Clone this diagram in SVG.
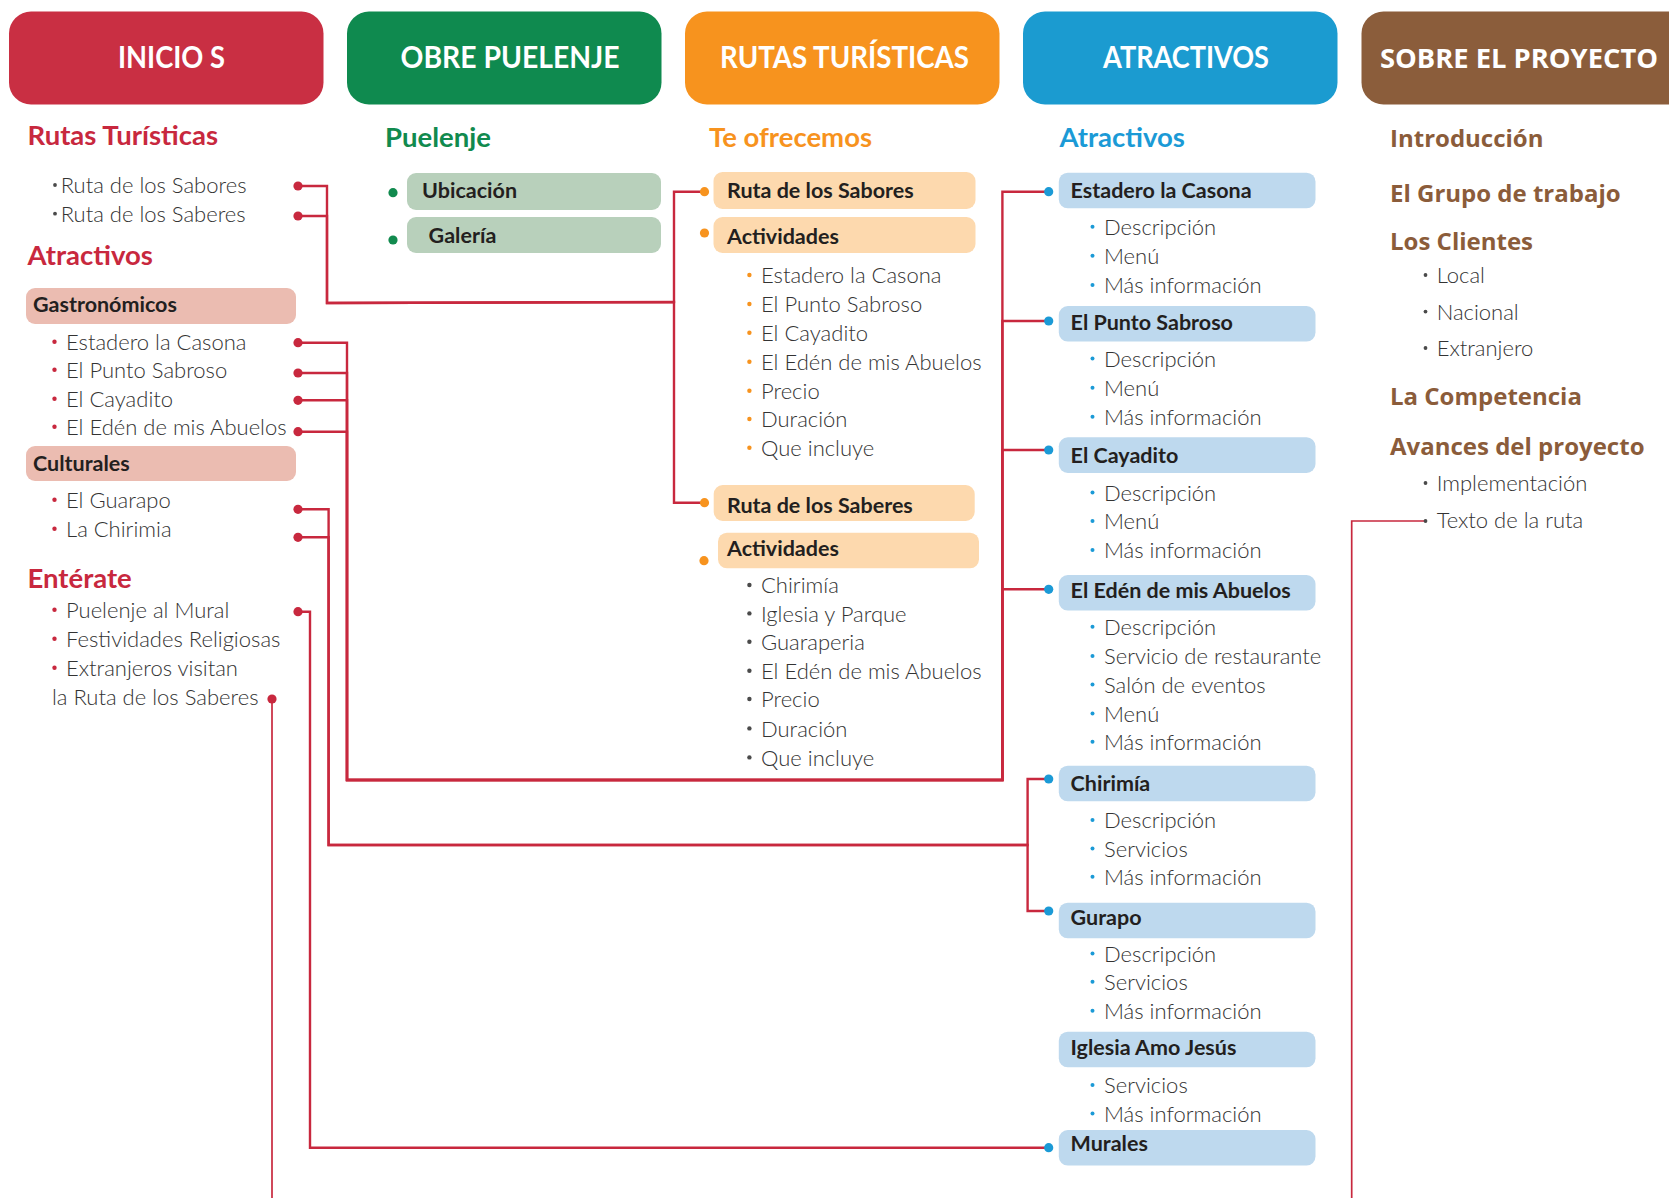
<svg xmlns="http://www.w3.org/2000/svg" width="1669" height="1198" viewBox="0 0 1669 1198">
  <style>
    .hdr { font-family: Lato, "Open Sans", sans-serif; font-weight: 700; font-size: 30px; fill: #ffffff; }
    .hdr2 { font-family: "Open Sans", "Noto Sans", sans-serif; font-weight: 700; font-size: 27.5px; fill: #ffffff; }
    .h { font-family: Lato, "Open Sans", sans-serif; font-weight: 700; font-size: 27.5px; }
    .h5 { font-family: "Open Sans", "Noto Sans", sans-serif; font-weight: 700; font-size: 24px; fill: #8b5c3a; }
    .lbl { font-family: Lato, "Open Sans", sans-serif; font-weight: 700; font-size: 21.5px; fill: #231f20; }
    .it { font-family: Lato, "Open Sans", sans-serif; font-weight: 300; font-size: 22px; fill: #333333; }
    .red { fill: #c8283e; }
    .grn { fill: #118a4e; }
    .org { fill: #f7931e; }
    .blu { fill: #1b9ad6; }
    .gry { fill: #4a4a4a; }
    .bx-pink { fill: #ebbcb1; }
    .bx-green { fill: #b8d0bb; }
    .bx-orange { fill: #fdd9ae; }
    .bx-blue { fill: #bed9ee; }
    .wire { fill: none; stroke: #c8283e; stroke-width: 2.4; stroke-linejoin: miter; }
    .wire-thin { fill: none; stroke: #c8283e; stroke-width: 1.7; }
  </style>

  <rect width="1669" height="1198" fill="#ffffff"/>

  <!-- connectors -->
  <g id="connectors">
    <path class="wire" d="M298,186 H327 V303 L674,302 V191.7 H704.5"/>
    <path class="wire" d="M298,216 H327 V303 L674,302 V502.7 H704.5"/>
    <path class="wire" d="M298,342.7 H347 V780 H1002.4 V191.7 H1048.7"/>
    <path class="wire" d="M298,373 H347 V780 H1002.4 V321 H1048.7"/>
    <path class="wire" d="M298,400.3 H347 V780 H1002.4 V450 H1048.7"/>
    <path class="wire" d="M298,431.7 H347 V780 H1002.4 V589.3 H1048.7"/>
    <path class="wire" d="M298,509.3 H328.6 V845 H1027.6 V911 H1048.7"/>
    <path class="wire" d="M298,537.3 H328.6 V845 H1027.6 V779 H1048.7"/>
    <path class="wire" d="M298,611.7 H310 V1147.7 H1048.7"/>
    <path class="wire-thin" d="M272,699 V1198"/>
    <path class="wire-thin" d="M1425,521 H1351.7 V1198"/>
  </g>

  <!-- column headers -->
  <g id="hdr-inicio">
    <rect x="9" y="11.5" width="314.5" height="93" rx="22" fill="#c92f43"/>
    <text class="hdr" x="118" y="68" textLength="107" lengthAdjust="spacingAndGlyphs">INICIO S</text>
  </g>
  <g id="hdr-puelenje">
    <rect x="347" y="11.5" width="314.5" height="93" rx="22" fill="#0f8a4f"/>
    <text class="hdr" x="400.5" y="68" textLength="219" lengthAdjust="spacingAndGlyphs">OBRE PUELENJE</text>
  </g>
  <g id="hdr-rutas">
    <rect x="685" y="11.5" width="314.5" height="93" rx="22" fill="#f7931e"/>
    <text class="hdr" x="720" y="68" textLength="249" lengthAdjust="spacingAndGlyphs">RUTAS TURÍSTICAS</text>
  </g>
  <g id="hdr-atractivos">
    <rect x="1023" y="11.5" width="314.5" height="93" rx="22" fill="#1b9bd0"/>
    <text class="hdr" x="1103" y="68" textLength="166" lengthAdjust="spacingAndGlyphs">ATRACTIVOS</text>
  </g>
  <g id="hdr-proyecto">
    <rect x="1361.5" y="11.5" width="340" height="93" rx="22" fill="#8b5d3b"/>
    <text class="hdr2" x="1380" y="68" textLength="278" lengthAdjust="spacingAndGlyphs">SOBRE EL PROYECTO</text>
  </g>

  <!-- column 1: inicio -->
  <g id="c1-rutas">
    <text class="h red" x="27.5" y="145">Rutas Turísticas</text>
    <circle class="gry" cx="55" cy="185" r="1.9"/>
    <circle class="gry" cx="55" cy="213.7" r="1.9"/>
    <text class="it" x="60.7" y="193">Ruta de los Sabores</text>
    <text class="it" x="60.7" y="221.7">Ruta de los Saberes</text>
    <circle class="red" cx="298" cy="186" r="4.6"/>
    <circle class="red" cx="298" cy="216" r="4.6"/>
  </g>
  <g id="c1-atractivos">
    <text class="h red" x="27.5" y="265">Atractivos</text>
  </g>
  <g id="c1-gastronomicos">
    <rect class="bx-pink" x="26" y="288" width="270" height="36" rx="9"/>
    <text class="lbl" x="33" y="312">Gastronómicos</text>
    <circle class="red" cx="54.5" cy="341.7" r="2.2"/>
    <circle class="red" cx="54.5" cy="369.7" r="2.2"/>
    <circle class="red" cx="54.5" cy="398.7" r="2.2"/>
    <circle class="red" cx="54.5" cy="426.7" r="2.2"/>
    <text class="it" x="66" y="350">Estadero la Casona</text>
    <text class="it" x="66" y="378">El Punto Sabroso</text>
    <text class="it" x="66" y="407">El Cayadito</text>
    <text class="it" x="66" y="435">El Edén de mis Abuelos</text>
    <circle class="red" cx="298" cy="342.7" r="4.6"/>
    <circle class="red" cx="298" cy="373" r="4.6"/>
    <circle class="red" cx="298" cy="400.3" r="4.6"/>
    <circle class="red" cx="298" cy="431.7" r="4.6"/>
  </g>
  <g id="c1-culturales">
    <rect class="bx-pink" x="26" y="446" width="270" height="35" rx="9"/>
    <text class="lbl" x="33" y="471">Culturales</text>
    <circle class="red" cx="54.5" cy="499.7" r="2.2"/>
    <circle class="red" cx="54.5" cy="528.7" r="2.2"/>
    <text class="it" x="66" y="508">El Guarapo</text>
    <text class="it" x="66" y="537">La Chirimia</text>
    <circle class="red" cx="298" cy="509.3" r="4.6"/>
    <circle class="red" cx="298" cy="537.3" r="4.6"/>
  </g>
  <g id="c1-enterate">
    <text class="h red" x="27.5" y="588">Entérate</text>
    <circle class="red" cx="54.5" cy="609.7" r="2.2"/>
    <circle class="red" cx="54.5" cy="638.7" r="2.2"/>
    <circle class="red" cx="54.5" cy="667.7" r="2.2"/>
    <text class="it" x="66" y="618">Puelenje al Mural</text>
    <text class="it" x="66" y="647">Festividades Religiosas</text>
    <text class="it" x="66" y="676">Extranjeros visitan</text>
    <text class="it" x="52" y="705">la Ruta de los Saberes</text>
    <circle class="red" cx="298" cy="611.7" r="4.6"/>
    <circle class="red" cx="272" cy="699" r="4.6"/>
  </g>

  <!-- column 2: puelenje -->
  <g id="c2-puelenje">
    <text class="h grn" x="385" y="147">Puelenje</text>
  </g>
  <g id="c2-ubicacion">
    <circle class="grn" cx="393" cy="192.7" r="4.6"/>
    <rect class="bx-green" x="407" y="173" width="254" height="37" rx="9"/>
    <text class="lbl" x="422" y="198">Ubicación</text>
  </g>
  <g id="c2-galeria">
    <circle class="grn" cx="393" cy="240" r="4.6"/>
    <rect class="bx-green" x="407" y="217" width="254" height="36" rx="9"/>
    <text class="lbl" x="428.6" y="243">Galería</text>
  </g>

  <!-- column 3: rutas turisticas -->
  <g id="c3-ofrecemos">
    <text class="h org" x="709" y="147">Te ofrecemos</text>
  </g>
  <g id="c3-sabores">
    <circle class="org" cx="704.5" cy="191.7" r="4.6"/>
    <rect class="bx-orange" x="713.5" y="172" width="262" height="37" rx="9"/>
    <text class="lbl" x="727" y="198">Ruta de los Sabores</text>
  </g>
  <g id="c3-actividades-sabores">
    <circle class="org" cx="704.5" cy="233" r="4.6"/>
    <rect class="bx-orange" x="713.5" y="217" width="262" height="36" rx="9"/>
    <text class="lbl" x="727" y="244">Actividades</text>
    <circle class="org" cx="749.4" cy="275" r="2.2"/>
    <circle class="org" cx="749.4" cy="304" r="2.2"/>
    <circle class="org" cx="749.4" cy="332.7" r="2.2"/>
    <circle class="org" cx="749.4" cy="361.7" r="2.2"/>
    <circle class="org" cx="749.4" cy="390.7" r="2.2"/>
    <circle class="org" cx="749.4" cy="419" r="2.2"/>
    <circle class="org" cx="749.4" cy="447.7" r="2.2"/>
    <text class="it" x="761" y="283.3">Estadero la Casona</text>
    <text class="it" x="761" y="312.3">El Punto Sabroso</text>
    <text class="it" x="761" y="341">El Cayadito</text>
    <text class="it" x="761" y="370">El Edén de mis Abuelos</text>
    <text class="it" x="761" y="399">Precio</text>
    <text class="it" x="761" y="427.3">Duración</text>
    <text class="it" x="761" y="456">Que incluye</text>
  </g>
  <g id="c3-saberes">
    <circle class="org" cx="704.5" cy="502.7" r="4.6"/>
    <rect class="bx-orange" x="713.7" y="485" width="261" height="36" rx="9"/>
    <text class="lbl" x="727" y="513.3">Ruta de los Saberes</text>
  </g>
  <g id="c3-actividades-saberes">
    <circle class="org" cx="704" cy="560.7" r="4.6"/>
    <rect class="bx-orange" x="718" y="532.7" width="261" height="35.6" rx="9"/>
    <text class="lbl" x="727" y="556">Actividades</text>
    <circle class="gry" cx="749.4" cy="585" r="2.2"/>
    <circle class="gry" cx="749.4" cy="613.4" r="2.2"/>
    <circle class="gry" cx="749.4" cy="641.7" r="2.2"/>
    <circle class="gry" cx="749.4" cy="670.7" r="2.2"/>
    <circle class="gry" cx="749.4" cy="699" r="2.2"/>
    <circle class="gry" cx="749.4" cy="728.4" r="2.2"/>
    <circle class="gry" cx="749.4" cy="757.4" r="2.2"/>
    <text class="it" x="761" y="593.3">Chirimía</text>
    <text class="it" x="761" y="621.7">Iglesia y Parque</text>
    <text class="it" x="761" y="650">Guaraperia</text>
    <text class="it" x="761" y="679">El Edén de mis Abuelos</text>
    <text class="it" x="761" y="707.3">Precio</text>
    <text class="it" x="761" y="736.7">Duración</text>
    <text class="it" x="761" y="765.7">Que incluye</text>
  </g>

  <!-- column 4: atractivos -->
  <g id="c4-atractivos">
    <text class="h blu" x="1059.5" y="147">Atractivos</text>
  </g>
  <g id="c4-casona">
    <circle class="blu" cx="1048.7" cy="191.7" r="4.6"/>
    <rect class="bx-blue" x="1058.8" y="172.7" width="256.7" height="35.6" rx="9"/>
    <text class="lbl" x="1070.6" y="198.3">Estadero la Casona</text>
    <circle class="blu" cx="1092.5" cy="226.7" r="2"/>
    <circle class="blu" cx="1092.5" cy="255.7" r="2"/>
    <circle class="blu" cx="1092.5" cy="285" r="2"/>
    <text class="it" x="1104" y="235">Descripción</text>
    <text class="it" x="1104" y="264">Menú</text>
    <text class="it" x="1104" y="293.3">Más información</text>
  </g>
  <g id="c4-punto-sabroso">
    <circle class="blu" cx="1048.7" cy="321" r="4.6"/>
    <rect class="bx-blue" x="1058.8" y="306" width="256.7" height="35.6" rx="9"/>
    <text class="lbl" x="1070.6" y="330">El Punto Sabroso</text>
    <circle class="blu" cx="1092.5" cy="358.4" r="2"/>
    <circle class="blu" cx="1092.5" cy="387.7" r="2"/>
    <circle class="blu" cx="1092.5" cy="416.7" r="2"/>
    <text class="it" x="1104" y="366.7">Descripción</text>
    <text class="it" x="1104" y="396">Menú</text>
    <text class="it" x="1104" y="425">Más información</text>
  </g>
  <g id="c4-cayadito">
    <circle class="blu" cx="1048.7" cy="450" r="4.6"/>
    <rect class="bx-blue" x="1058.8" y="437.3" width="256.7" height="35.6" rx="9"/>
    <text class="lbl" x="1070.6" y="463">El Cayadito</text>
    <circle class="blu" cx="1092.5" cy="492.4" r="2"/>
    <circle class="blu" cx="1092.5" cy="521" r="2"/>
    <circle class="blu" cx="1092.5" cy="550" r="2"/>
    <text class="it" x="1104" y="500.7">Descripción</text>
    <text class="it" x="1104" y="529.3">Menú</text>
    <text class="it" x="1104" y="558.3">Más información</text>
  </g>
  <g id="c4-eden">
    <circle class="blu" cx="1048.7" cy="589.3" r="4.6"/>
    <rect class="bx-blue" x="1058.8" y="575" width="256.7" height="35.6" rx="9"/>
    <text class="lbl" x="1070.6" y="598.3">El Edén de mis Abuelos</text>
    <circle class="blu" cx="1092.5" cy="626.7" r="2"/>
    <circle class="blu" cx="1092.5" cy="656" r="2"/>
    <circle class="blu" cx="1092.5" cy="684.4" r="2"/>
    <circle class="blu" cx="1092.5" cy="713.4" r="2"/>
    <circle class="blu" cx="1092.5" cy="741.7" r="2"/>
    <text class="it" x="1104" y="635">Descripción</text>
    <text class="it" x="1104" y="664.3">Servicio de restaurante</text>
    <text class="it" x="1104" y="692.7">Salón de eventos</text>
    <text class="it" x="1104" y="721.7">Menú</text>
    <text class="it" x="1104" y="750">Más información</text>
  </g>
  <g id="c4-chirimia">
    <circle class="blu" cx="1048.7" cy="779" r="4.6"/>
    <rect class="bx-blue" x="1058.8" y="765.7" width="256.7" height="35.6" rx="9"/>
    <text class="lbl" x="1070.6" y="790.7">Chirimía</text>
    <circle class="blu" cx="1092.5" cy="820" r="2"/>
    <circle class="blu" cx="1092.5" cy="848.4" r="2"/>
    <circle class="blu" cx="1092.5" cy="876.7" r="2"/>
    <text class="it" x="1104" y="828.3">Descripción</text>
    <text class="it" x="1104" y="856.7">Servicios</text>
    <text class="it" x="1104" y="885">Más información</text>
  </g>
  <g id="c4-gurapo">
    <circle class="blu" cx="1048.7" cy="911" r="4.6"/>
    <rect class="bx-blue" x="1058.8" y="902.7" width="256.7" height="35.6" rx="9"/>
    <text class="lbl" x="1070.6" y="925">Gurapo</text>
    <circle class="blu" cx="1092.5" cy="953.4" r="2"/>
    <circle class="blu" cx="1092.5" cy="981.7" r="2"/>
    <circle class="blu" cx="1092.5" cy="1010.7" r="2"/>
    <text class="it" x="1104" y="961.7">Descripción</text>
    <text class="it" x="1104" y="990">Servicios</text>
    <text class="it" x="1104" y="1019">Más información</text>
  </g>
  <g id="c4-iglesia">
    <rect class="bx-blue" x="1058.8" y="1031.7" width="256.7" height="35.6" rx="9"/>
    <text class="lbl" x="1070.6" y="1055">Iglesia Amo Jesús</text>
    <circle class="blu" cx="1092.5" cy="1085" r="2"/>
    <circle class="blu" cx="1092.5" cy="1113.4" r="2"/>
    <text class="it" x="1104" y="1093.3">Servicios</text>
    <text class="it" x="1104" y="1121.7">Más información</text>
  </g>
  <g id="c4-murales">
    <circle class="blu" cx="1048.7" cy="1147.7" r="4.6"/>
    <rect class="bx-blue" x="1058.8" y="1130" width="256.7" height="35.6" rx="9"/>
    <text class="lbl" x="1070.6" y="1150.7">Murales</text>
  </g>

  <!-- column 5: sobre el proyecto -->
  <g id="c5-introduccion">
    <text class="h5" x="1390" y="147">Introducción</text>
  </g>
  <g id="c5-grupo">
    <text class="h5" x="1390" y="202">El Grupo de trabajo</text>
  </g>
  <g id="c5-clientes">
    <text class="h5" x="1390" y="250">Los Clientes</text>
    <circle class="gry" cx="1425.5" cy="275" r="1.9"/>
    <circle class="gry" cx="1425.5" cy="311.6" r="1.9"/>
    <circle class="gry" cx="1425.5" cy="348" r="1.9"/>
    <text class="it" x="1436.7" y="283">Local</text>
    <text class="it" x="1436.7" y="319.6">Nacional</text>
    <text class="it" x="1436.7" y="356">Extranjero</text>
  </g>
  <g id="c5-competencia">
    <text class="h5" x="1390" y="405.4">La Competencia</text>
  </g>
  <g id="c5-avances">
    <text class="h5" x="1390" y="454.6">Avances del proyecto</text>
    <circle class="gry" cx="1425.5" cy="483" r="1.9"/>
    <circle class="gry" cx="1425.5" cy="521" r="1.9"/>
    <text class="it" x="1436.7" y="491">Implementación</text>
    <text class="it" x="1436.7" y="528">Texto de la ruta</text>
  </g>
</svg>
